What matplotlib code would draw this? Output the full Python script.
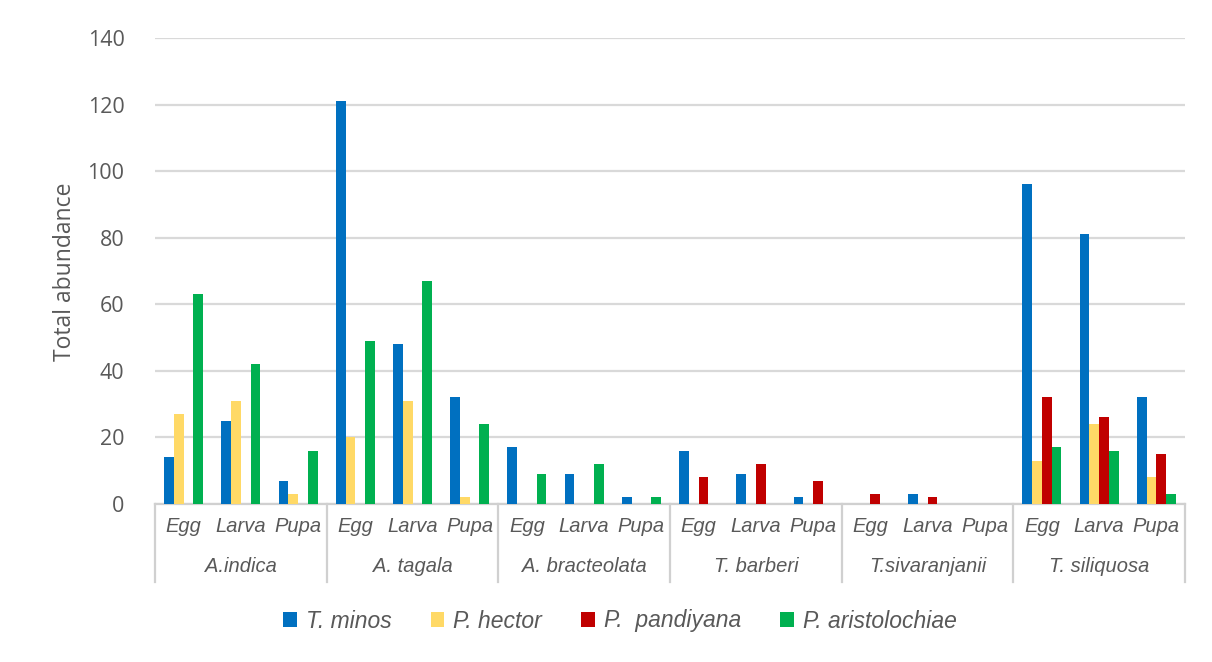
import numpy as np
import matplotlib
matplotlib.use("Agg")
import matplotlib.pyplot as plt
import matplotlib.transforms as mtransforms

# data
plants = ["A.indica", "A. tagala", "A. bracteolata", "T. barberi", "T.sivaranjanii", "T. siliquosa"]
stages = ["Egg", "Larva", "Pupa"]
species = ["T. minos", "P. hector", "P.  pandiyana", "P. aristolochiae"]

t_minos       = [14, 25, 7,  121, 48, 32,  17, 9, 2,  16, 9, 2,  0, 3, 0,  96, 81, 32]
p_hector      = [27, 31, 3,  20, 31, 2,    0, 0, 0,   0, 0, 0,   0, 0, 0,  13, 24, 8]
p_pandiyana   = [0, 0, 0,    0, 0, 0,      0, 0, 0,   8, 12, 7,  3, 2, 0,  32, 26, 15]
p_aristolochiae = [63, 42, 16, 49, 67, 24, 9, 12, 2,  0, 0, 0,   0, 0, 0,  17, 16, 3]

colors = ["#0070C0", "#FFD966", "#C00000", "#00B050"]
series = [t_minos, p_hector, p_pandiyana, p_aristolochiae]

W, H = 1212, 662
fig = plt.figure(figsize=(W / 100, H / 100), dpi=100)
# axes box in pixels: left 155, right 1185, top 38 (y=140), bottom 504 (y=0)
ax = fig.add_axes([155 / W, (H - 504) / H, (1185 - 155) / W, (504 - 38) / H])

tick_font = "Open Sans"
cat_font = ["Liberation Sans", "DejaVu Sans"]
grey = "#595959"

x = np.arange(len(t_minos))
w = 0.17
for i, (vals, c, name) in enumerate(zip(series, colors, species)):
    ax.bar(x + (i - 1.5) * w, vals, width=w, color=c, label=name, zorder=3)

ax.set_xlim(-0.5, len(x) - 0.5)
ax.set_ylim(0, 140)
ax.set_yticks(range(0, 141, 20))
ax.yaxis.grid(True, color="#d9d9d9", lw=1.6, zorder=0)
ax.tick_params(axis="y", length=0, pad=22, labelsize=15.5, labelcolor=grey)
for lab in ax.get_yticklabels():
    lab.set_family(tick_font)
ax.set_xticks([])
for s in ["top", "right", "left"]:
    ax.spines[s].set_visible(False)
ax.spines["bottom"].set_color("#d0d0d0")
ax.spines["bottom"].set_linewidth(1.6)

# two-level category axis
trans = mtransforms.blended_transform_factory(ax.transData, ax.transAxes)
axh = 504 - 38
for k in range(len(plants) + 1):
    xs = k * 3 - 0.5
    ax.plot([xs, xs], [0, -(582 - 504) / axh], transform=trans, color="#d0d0d0",
            lw=1.6, clip_on=False)
for j, xi in enumerate(x):
    ax.text(xi, -(527 - 504) / axh, stages[j % 3], transform=trans, ha="center", va="center",
            fontsize=14.5, style="italic", color=grey, family=cat_font)
for k, p in enumerate(plants):
    ax.text(k * 3 + 1, -(566 - 504) / axh, p, transform=trans, ha="center", va="center",
            fontsize=14.5, style="italic", color=grey, family=cat_font)

fig.text(65 / W, 1 - 272 / H, "Total abundance", rotation=90, ha="center", va="center",
         fontsize=16.5, color=grey, family=tick_font)

leg = fig.legend(loc="center", bbox_to_anchor=(620 / W, 1 - 621 / H), ncol=4, frameon=False,
                 handlelength=0.6, handleheight=0.6, handletextpad=0.4, columnspacing=1.7,
                 prop={"family": cat_font, "style": "italic", "size": 16.5})
for t in leg.get_texts():
    t.set_color(grey)

fig.savefig("out.png", dpi=100)
